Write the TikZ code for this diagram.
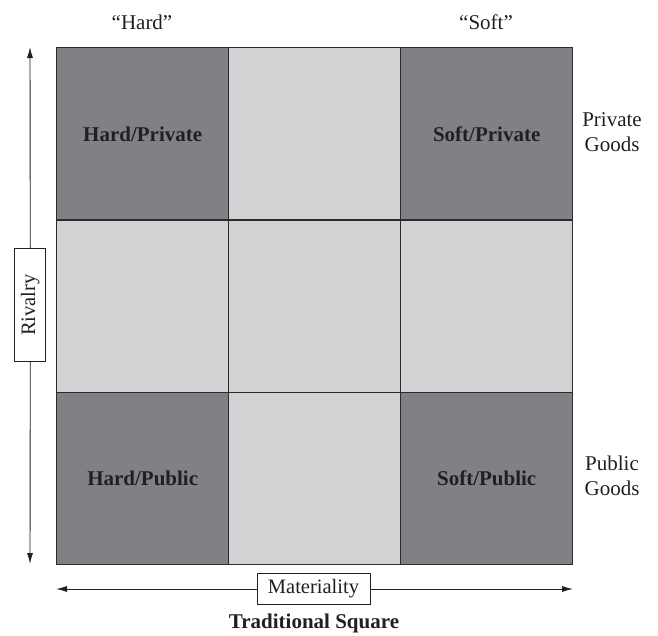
\documentclass[tikz,border=0pt]{standalone}
\usepackage{fontspec}
\setmainfont{Liberation Serif}
\usetikzlibrary{arrows.meta}
\definecolor{darkcell}{HTML}{808184}
\definecolor{lightcell}{HTML}{D1D2D4}
\definecolor{edge}{HTML}{2B2B2B}
\definecolor{ink}{HTML}{231F20}
\begin{document}
\begin{tikzpicture}[x=1pt,y=-1pt,
  cellbox/.style={draw=edge,line width=1.4pt,minimum width=172pt,minimum height=172.3pt,inner sep=0pt,anchor=north west},
  dcell/.style={cellbox,fill=darkcell},
  lcell/.style={cellbox,fill=lightcell},
  celltext/.style={font=\fontsize{21}{25}\selectfont\bfseries,text=ink},
  plain/.style={font=\fontsize{21}{25}\selectfont,text=ink,align=center},
  labbox/.style={draw=ink,line width=0.9pt,fill=white,font=\fontsize{20.5}{24}\selectfont,text=ink,inner sep=0pt,minimum width=113pt,minimum height=31pt},
  axis/.style={draw=ink,line width=0.9pt,-{Latex[length=11pt,width=6pt]}}]
\useasboundingbox (0,0) rectangle (658,635);
% grid cells
\node[dcell] (c11) at (56,47) {};
\node[lcell] (c12) at (228,47) {};
\node[dcell] (c13) at (400,47) {};
\node[lcell] (c21) at (56,219.3) {};
\node[lcell] (c22) at (228,219.3) {};
\node[lcell] (c23) at (400,219.3) {};
\node[dcell] (c31) at (56,391.6) {};
\node[lcell] (c32) at (228,391.6) {};
\node[dcell] (c33) at (400,391.6) {};
% cell labels
\node[celltext] (hp) at (c11.center) {Hard/Private};
\node[celltext] (sp) at (c13.center) {Soft/Private};
\node[celltext] (hpu) at (c31.center) {Hard/Public};
\node[celltext] (spu) at (c33.center) {Soft/Public};
% top labels
\node[plain] (hard) at (142,22) {“Hard”};
\node[plain] (soft) at (486,22) {“Soft”};
% right labels
\node[plain] (privg) at (612,132) {Private\\Goods};
\node[plain] (pubg) at (612,476) {Public\\Goods};
% vertical axis
\coordinate (vtop) at (30,47);
\coordinate (vbot) at (30,564);
\node[labbox,rotate=90] (riv) at (30.3,305) {Rivalry};
\draw[axis] (riv.east) -- (vtop);
\draw[axis] (riv.west) -- (vbot);
% horizontal axis
\coordinate (hleft) at (56,589);
\coordinate (hright) at (573,589);
\node[labbox] (mat) at (313.5,589) {Materiality};
\draw[axis] (mat.west) -- (hleft);
\draw[axis] (mat.east) -- (hright);
% caption
\node[font=\fontsize{21}{25}\selectfont\bfseries,text=ink] (cap) at (314,623) {Traditional Square};
\end{tikzpicture}
\end{document}
